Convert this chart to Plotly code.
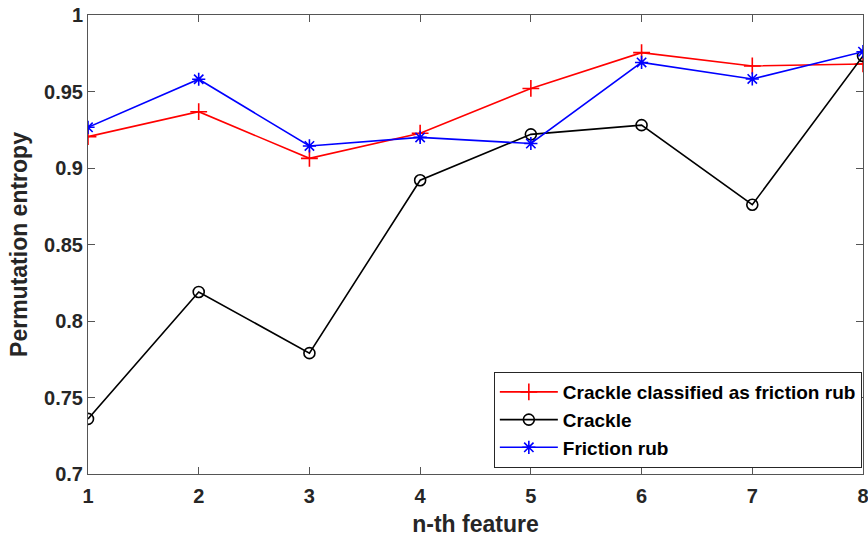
import plotly.graph_objects as go

features = [1, 2, 3, 4, 5, 6, 7, 8]
crackle_as_rub = [0.9205, 0.9368, 0.9063, 0.9227, 0.952, 0.9754, 0.9667, 0.968]
crackle = [0.736, 0.819, 0.779, 0.892, 0.922, 0.928, 0.876, 0.9732]
friction_rub = [0.9266, 0.958, 0.9144, 0.920, 0.916, 0.969, 0.9582, 0.976]

y_ticks = [0.7, 0.75, 0.8, 0.85, 0.9, 0.95, 1]
y_tick_labels = ["0.7", "0.75", "0.8", "0.85", "0.9", "0.95", "1"]

FONT = "Liberation Sans, Arial, sans-serif"
TXT = "#262626"

fig = go.Figure()
fig.add_trace(go.Scatter(
    x=features, y=crackle_as_rub, mode="lines+markers",
    name="Crackle classified as friction rub",
    line=dict(color="#ff0000", width=1.6),
    marker=dict(symbol="cross-thin-open", size=12, color="#ff0000",
                line=dict(color="#ff0000", width=1.6)),
))
fig.add_trace(go.Scatter(
    x=features, y=crackle, mode="lines+markers",
    name="Crackle",
    line=dict(color="#000000", width=1.6),
    marker=dict(symbol="circle-open", size=11, color="#000000",
                line=dict(color="#000000", width=1.6)),
))
fig.add_trace(go.Scatter(
    x=features, y=friction_rub, mode="lines+markers",
    name="Friction rub",
    line=dict(color="#0000ff", width=1.6),
    marker=dict(symbol="asterisk-open", size=11, color="#0000ff",
                line=dict(color="#0000ff", width=1.6)),
))

fig.update_layout(
    width=868, height=538,
    margin=dict(l=88, r=5, t=15, b=64),
    paper_bgcolor="white", plot_bgcolor="white",
    font=dict(family=FONT, size=19, color=TXT),
    showlegend=True,
    legend=dict(
        x=0.9985, xanchor="right", y=0.013, yanchor="bottom",
        bordercolor=TXT, borderwidth=1, bgcolor="white",
        font=dict(family=FONT, size=19, color="#000000", weight="bold"),
        tracegroupgap=0, itemwidth=58,
    ),
    xaxis=dict(
        range=[1, 8], tickvals=features, ticktext=[str(v) for v in features],
        showgrid=False, zeroline=False, automargin=False,
        ticklabeloverflow="allow", ticklabelstandoff=4,
        showline=True, linecolor="#555555", linewidth=1, mirror="ticks",
        ticks="inside", ticklen=7, tickcolor="#555555",
        tickfont=dict(family=FONT, size=20, color=TXT, weight="bold"),
        title=dict(text="n-th feature", standoff=9,
                   font=dict(family=FONT, size=23, color=TXT, weight="bold")),
    ),
    yaxis=dict(
        range=[0.7, 1], tickvals=y_ticks, ticktext=y_tick_labels,
        showgrid=False, zeroline=False, automargin=False,
        showline=True, linecolor="#555555", linewidth=1, mirror="ticks",
        ticks="inside", ticklen=7, tickcolor="#555555",
        tickfont=dict(family=FONT, size=20, color=TXT, weight="bold"),
        title=dict(text="Permutation entropy", standoff=10,
                   font=dict(family=FONT, size=23, color=TXT, weight="bold")),
    ),
)

fig.write_html("out.html")
